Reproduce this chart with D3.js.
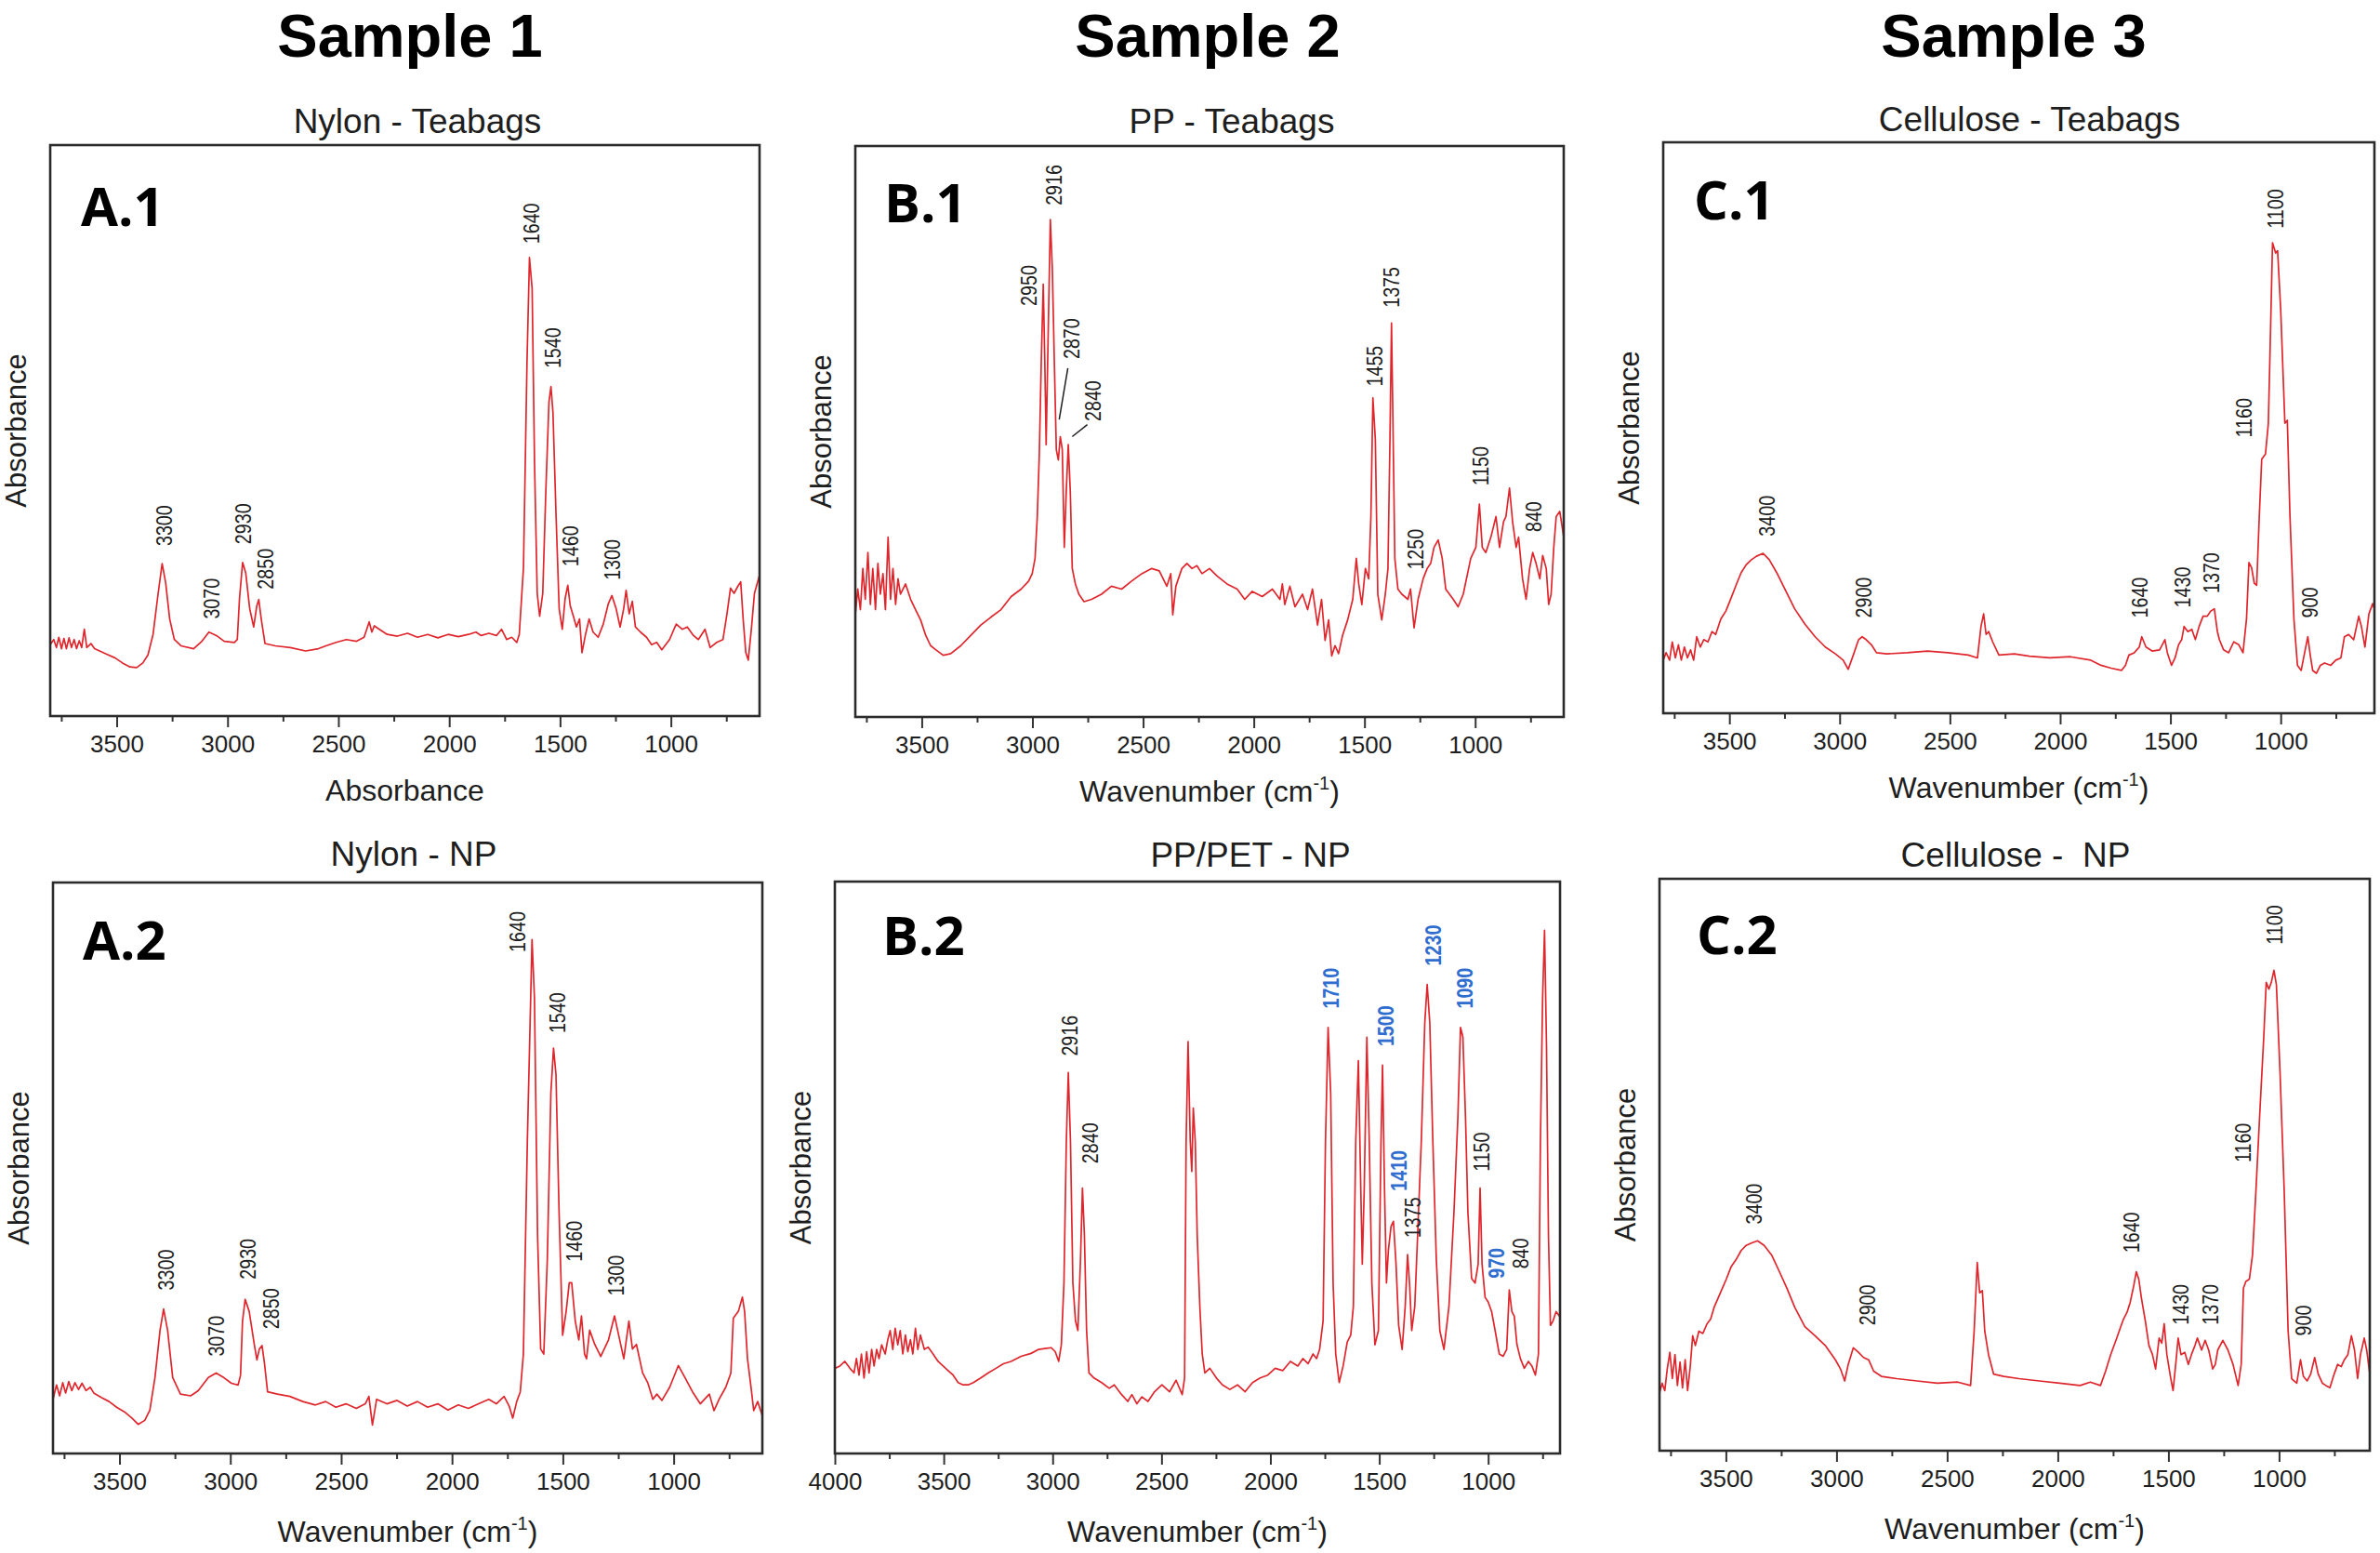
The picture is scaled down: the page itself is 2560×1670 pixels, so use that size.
<!DOCTYPE html>
<html><head><meta charset="utf-8">
<script src="https://cdn.jsdelivr.net/npm/d3@7"></script>
<style>body{margin:0;background:#fff}svg text{white-space:pre}</style>
</head><body>
<svg id="c" width="2560" height="1670" xmlns="http://www.w3.org/2000/svg"></svg>
<script>
// ---------------- DATA ----------------
const sampleTitles = ["Sample 1", "Sample 2", "Sample 3"];
const panelTitles = ["Nylon - Teabags", "PP - Teabags", "Cellulose - Teabags", "Nylon - NP", "PP/PET - NP", "Cellulose -  NP"];
const panelTags = ["A.1", "B.1", "C.1", "A.2", "B.2", "C.2"];
const xAxisTitles = ["Absorbance", "Wavenumber", "Wavenumber", "Wavenumber", "Wavenumber", "Wavenumber"];
const yAxisTitle = "Absorbance";
const majorTicks = [3500, 3000, 2500, 2000, 1500, 1000];
const majorTicksB2 = [4000, 3500, 3000, 2500, 2000, 1500, 1000];
const minorTicks = [3750, 3250, 2750, 2250, 1750, 1250, 750];

// spectra: [wavenumber (cm-1), absorbance (a.u.)]
const specA1 = [[3800,12.5],[3784,13.4],[3772,12.0],[3761,13.8],[3749,11.8],[3738,13.6],[3727,11.8],[3715,13.7],[3704,12.0],[3692,13.4],[3681,11.8],[3669,13.2],[3658,12.0],[3646,15.2],[3635,12.0],[3616,12.7],[3600,11.8],[3577,11.4],[3543,10.8],[3508,10.2],[3474,9.3],[3440,8.6],[3410,8.5],[3382,9.3],[3359,10.7],[3336,14.3],[3313,21.5],[3295,26.7],[3279,23.3],[3261,17.0],[3240,13.4],[3210,12.3],[3153,11.8],[3118,13.0],[3084,14.7],[3050,14.1],[3015,13.1],[2969,12.9],[2956,13.4],[2946,20.6],[2932,26.9],[2918,25.1],[2900,18.8],[2882,15.6],[2868,19.3],[2859,20.4],[2848,17.0],[2831,12.7],[2785,12.3],[2717,12.0],[2648,11.4],[2590,11.8],[2556,12.3],[2510,12.9],[2464,13.4],[2418,13.1],[2384,13.8],[2361,16.5],[2349,14.7],[2338,15.8],[2315,15.2],[2280,14.3],[2234,14.0],[2188,14.5],[2143,13.8],[2097,14.3],[2051,13.7],[2005,14.3],[1959,13.9],[1913,14.3],[1879,14.7],[1856,14.1],[1821,14.5],[1787,14.1],[1764,15.2],[1741,13.4],[1718,13.8],[1695,12.9],[1684,14.3],[1665,26.0],[1649,62.2],[1638,80.3],[1626,74.9],[1615,44.1],[1603,21.5],[1592,17.5],[1578,21.5],[1564,39.6],[1550,55.0],[1541,57.7],[1532,53.2],[1518,35.1],[1504,18.8],[1490,15.2],[1477,20.6],[1465,22.9],[1454,19.3],[1440,17.5],[1426,15.6],[1412,17.0],[1401,11.1],[1385,14.3],[1369,17.0],[1351,14.7],[1328,13.8],[1305,16.1],[1282,19.7],[1266,21.1],[1247,18.8],[1229,15.6],[1213,18.8],[1202,22.0],[1188,17.9],[1174,20.1],[1160,15.6],[1137,14.7],[1110,13.8],[1087,12.5],[1064,12.9],[1041,11.6],[1006,13.4],[976,16.1],[949,15.2],[926,15.6],[898,14.1],[876,13.4],[846,15.2],[823,12.0],[793,12.9],[765,13.4],[747,17.9],[731,22.4],[715,21.5],[697,22.8],[685,23.5],[674,17.0],[662,11.1],[651,9.8],[637,15.2],[623,21.5],[600,24.7]];
const specB1 = [[3800,17.9],[3789,22.4],[3777,18.8],[3766,26.0],[3755,20.6],[3743,28.8],[3732,19.7],[3721,26.0],[3709,18.8],[3698,26.9],[3687,21.5],[3675,25.1],[3664,18.8],[3652,31.5],[3641,20.6],[3630,26.0],[3618,19.7],[3607,24.2],[3596,21.5],[3573,23.3],[3550,20.6],[3528,18.8],[3505,17.0],[3482,14.3],[3460,12.5],[3437,11.8],[3403,10.8],[3369,11.1],[3323,12.5],[3278,14.3],[3233,16.1],[3187,17.5],[3142,18.8],[3096,21.1],[3051,22.4],[3017,23.8],[3001,25.1],[2988,27.8],[2978,35.1],[2969,45.9],[2960,62.2],[2951,75.8],[2944,62.2],[2938,47.7],[2929,66.7],[2919,87.1],[2910,78.5],[2901,62.2],[2892,46.8],[2883,45.0],[2874,49.1],[2865,46.8],[2856,29.7],[2847,39.6],[2838,47.7],[2829,39.6],[2820,26.0],[2806,23.3],[2790,21.5],[2767,20.2],[2733,20.6],[2688,21.5],[2643,22.9],[2597,22.4],[2552,23.8],[2506,25.1],[2461,26.0],[2427,25.6],[2393,22.9],[2375,25.1],[2366,17.9],[2352,22.9],[2325,26.0],[2302,26.9],[2279,26.0],[2257,26.5],[2234,25.1],[2200,26.0],[2166,24.7],[2121,23.3],[2075,22.4],[2041,20.6],[2007,22.0],[1962,21.1],[1916,22.4],[1882,20.6],[1871,23.3],[1860,19.7],[1837,22.9],[1814,19.3],[1780,21.5],[1757,18.8],[1735,22.4],[1712,16.1],[1694,20.6],[1678,13.4],[1662,17.0],[1648,10.7],[1633,12.5],[1617,11.1],[1599,14.3],[1576,17.0],[1553,20.6],[1537,27.8],[1526,23.3],[1512,19.7],[1496,26.0],[1481,24.2],[1471,35.1],[1462,55.9],[1451,48.6],[1440,21.5],[1422,17.0],[1406,21.5],[1394,26.0],[1385,48.6],[1378,69.0],[1372,53.2],[1363,27.8],[1349,22.4],[1331,21.5],[1304,20.6],[1292,22.4],[1276,15.6],[1258,20.6],[1235,24.2],[1217,26.0],[1201,26.9],[1186,29.7],[1167,31.0],[1149,27.8],[1133,22.4],[1099,20.6],[1077,19.3],[1054,21.5],[1020,27.8],[997,29.7],[981,37.3],[968,29.7],[952,28.8],[929,31.5],[906,35.1],[890,29.7],[872,34.2],[861,35.1],[845,40.1],[831,34.2],[815,29.7],[804,31.5],[786,24.2],[770,20.6],[754,26.0],[740,28.8],[725,26.9],[708,24.2],[695,28.3],[679,26.0],[668,19.7],[657,21.5],[645,29.7],[634,35.1],[618,36.0],[600,31.5]];
const specC1 = [[3800,9.3],[3787,10.6],[3771,9.3],[3759,12.5],[3745,9.7],[3731,12.0],[3718,9.3],[3704,11.6],[3690,9.7],[3676,11.1],[3662,9.3],[3648,13.4],[3632,11.6],[3616,12.9],[3597,12.5],[3579,14.3],[3562,13.8],[3539,16.5],[3516,17.9],[3493,20.1],[3470,22.4],[3447,24.6],[3424,26.0],[3400,26.9],[3377,27.5],[3347,28.0],[3319,26.9],[3285,24.6],[3250,21.9],[3204,18.3],[3157,15.6],[3111,13.4],[3065,11.6],[3019,10.4],[2984,9.3],[2961,7.7],[2938,10.2],[2914,12.9],[2898,13.4],[2880,12.9],[2856,12.0],[2833,10.6],[2787,10.4],[2694,10.6],[2602,10.9],[2509,10.6],[2417,10.2],[2375,9.7],[2359,15.2],[2347,17.4],[2336,13.8],[2324,14.3],[2306,12.5],[2278,10.2],[2208,10.4],[2139,10.0],[2046,9.7],[1954,9.9],[1861,9.3],[1815,8.4],[1769,7.9],[1722,7.5],[1704,8.4],[1688,10.2],[1664,10.6],[1641,11.6],[1630,13.4],[1611,11.6],[1583,10.9],[1549,11.1],[1525,12.9],[1514,10.6],[1495,8.4],[1479,9.7],[1463,12.0],[1449,12.9],[1438,15.2],[1421,14.3],[1403,14.7],[1387,12.9],[1370,15.2],[1352,17.0],[1333,17.0],[1317,17.9],[1301,18.3],[1287,14.3],[1278,12.9],[1259,11.1],[1236,10.6],[1213,12.5],[1190,12.0],[1171,10.6],[1155,16.5],[1144,26.4],[1132,25.5],[1120,22.8],[1109,22.4],[1097,34.6],[1086,44.5],[1069,45.4],[1056,50.8],[1046,67.1],[1037,82.4],[1023,80.6],[1014,81.0],[1000,70.7],[981,50.8],[970,51.3],[958,34.6],[940,16.5],[924,8.4],[907,7.5],[889,11.1],[877,13.4],[866,10.2],[855,7.5],[838,7.0],[820,8.4],[801,8.8],[773,8.4],[750,9.3],[727,9.7],[711,13.4],[692,13.8],[669,12.9],[646,17.0],[634,15.2],[618,11.6],[600,17.4],[583,19.2],[575,18.3]];
const specA2 = [[3800,9.5],[3784,12.0],[3770,10.1],[3756,12.4],[3743,10.6],[3729,12.6],[3715,11.0],[3701,12.4],[3685,11.2],[3669,12.3],[3651,11.0],[3632,11.6],[3616,10.6],[3582,9.8],[3547,9.1],[3513,8.1],[3478,7.3],[3444,6.2],[3416,5.1],[3386,5.8],[3363,7.6],[3340,13.3],[3317,21.6],[3301,25.3],[3283,21.6],[3260,13.3],[3225,10.4],[3179,10.1],[3145,11.0],[3099,13.3],[3064,14.1],[3030,13.3],[2995,12.3],[2965,12.0],[2954,13.7],[2945,23.2],[2933,27.0],[2915,24.9],[2892,19.1],[2880,16.4],[2869,18.3],[2857,18.9],[2846,15.8],[2832,10.8],[2788,10.4],[2731,10.0],[2673,9.1],[2616,8.5],[2570,9.1],[2524,8.1],[2478,8.7],[2432,7.9],[2391,8.7],[2375,10.0],[2359,5.0],[2340,9.5],[2294,8.7],[2248,9.3],[2202,8.3],[2156,9.1],[2110,8.1],[2064,8.7],[2018,7.6],[1972,8.5],[1926,7.9],[1880,8.7],[1834,9.5],[1800,8.7],[1765,10.0],[1742,8.3],[1726,6.2],[1708,9.1],[1692,10.8],[1678,17.4],[1660,54.8],[1639,90.0],[1628,79.7],[1614,38.2],[1600,18.3],[1586,17.4],[1570,34.0],[1554,63.1],[1542,71.0],[1531,66.4],[1517,42.3],[1501,20.7],[1485,24.9],[1471,29.9],[1460,29.9],[1444,23.2],[1428,19.9],[1416,24.1],[1402,17.4],[1393,16.6],[1379,21.6],[1356,19.1],[1329,17.0],[1294,19.9],[1267,24.1],[1248,20.7],[1225,16.6],[1202,23.2],[1186,18.3],[1168,19.1],[1140,14.1],[1117,12.4],[1094,9.5],[1076,10.4],[1053,9.3],[1018,11.6],[979,15.4],[949,13.3],[915,10.8],[880,8.7],[839,10.4],[818,7.5],[795,9.5],[765,11.6],[742,14.1],[731,23.7],[708,24.9],[690,27.4],[680,24.9],[667,16.6],[651,11.6],[639,7.5],[621,9.1],[600,6.6]];
const specB2 = [[4000,14.9],[3977,15.3],[3954,16.1],[3931,14.9],[3912,14.1],[3901,16.6],[3889,13.7],[3878,17.4],[3866,13.2],[3854,17.8],[3843,14.1],[3831,18.2],[3820,15.3],[3808,18.2],[3797,16.6],[3785,19.0],[3769,17.4],[3757,19.9],[3746,21.5],[3734,18.2],[3723,21.9],[3711,19.0],[3700,21.5],[3688,17.4],[3676,20.7],[3665,17.8],[3653,19.9],[3642,17.4],[3630,21.9],[3619,18.2],[3607,20.7],[3589,18.2],[3572,18.6],[3549,17.4],[3526,16.1],[3503,15.3],[3480,14.5],[3457,13.7],[3434,12.4],[3411,12.0],[3388,12.0],[3364,12.4],[3330,13.2],[3295,14.1],[3260,14.9],[3226,15.7],[3191,16.1],[3145,17.0],[3099,17.5],[3064,18.2],[3029,18.4],[3006,18.5],[2988,17.8],[2972,16.1],[2960,19.0],[2948,29.8],[2937,54.6],[2928,66.6],[2918,54.6],[2907,29.8],[2895,23.2],[2884,21.5],[2872,33.9],[2863,46.4],[2854,38.1],[2844,21.5],[2833,14.1],[2810,13.2],[2775,12.4],[2740,11.4],[2717,12.0],[2683,10.3],[2655,9.1],[2636,10.3],[2613,8.7],[2590,9.9],[2562,9.1],[2532,10.8],[2498,12.0],[2463,10.8],[2433,12.8],[2405,10.3],[2394,13.2],[2387,54.6],[2378,72.0],[2368,54.6],[2361,49.3],[2354,60.4],[2345,54.6],[2336,38.1],[2324,25.7],[2313,17.4],[2301,14.1],[2278,14.9],[2248,13.2],[2220,12.0],[2186,11.2],[2151,12.0],[2116,10.8],[2082,12.4],[2047,13.2],[2012,13.7],[1978,14.9],[1943,14.5],[1908,16.1],[1874,15.3],[1851,16.6],[1827,15.7],[1804,17.4],[1788,16.6],[1774,18.2],[1758,23.2],[1747,54.6],[1735,74.5],[1723,62.9],[1712,29.8],[1700,17.4],[1684,12.4],[1666,15.3],[1647,19.5],[1631,20.7],[1619,25.7],[1608,54.6],[1596,68.7],[1585,46.4],[1578,33.1],[1569,46.4],[1557,72.8],[1546,54.6],[1534,29.8],[1520,19.0],[1504,21.5],[1492,54.6],[1485,67.9],[1476,46.4],[1467,29.8],[1458,35.6],[1446,39.7],[1435,40.6],[1423,33.1],[1411,22.4],[1395,18.2],[1381,25.7],[1370,34.8],[1361,29.8],[1351,21.5],[1337,25.7],[1324,38.1],[1307,54.6],[1291,75.3],[1280,82.0],[1268,75.3],[1254,54.6],[1238,33.9],[1222,21.5],[1203,18.2],[1180,25.7],[1157,42.2],[1139,58.8],[1127,74.5],[1116,72.8],[1104,58.8],[1093,42.2],[1076,30.6],[1060,29.8],[1046,33.1],[1037,46.4],[1028,33.1],[1014,27.3],[1000,26.5],[984,24.8],[968,21.5],[949,17.4],[931,17.0],[915,18.2],[903,28.6],[891,24.8],[880,24.0],[868,19.1],[852,16.6],[834,14.9],[815,16.1],[799,15.3],[783,13.7],[769,17.4],[760,54.6],[750,79.5],[741,91.5],[732,71.2],[723,38.1],[714,22.4],[702,23.2],[688,24.8],[672,24.0]];
const specC2 = [[3800,10.1],[3788,11.8],[3776,10.5],[3765,14.3],[3753,17.2],[3742,12.6],[3730,16.8],[3719,11.4],[3707,15.5],[3696,11.0],[3684,15.9],[3673,10.5],[3661,14.7],[3650,20.1],[3638,18.4],[3622,20.9],[3604,20.5],[3585,22.2],[3569,23.0],[3553,25.1],[3535,26.7],[3516,28.4],[3498,30.0],[3477,32.1],[3454,33.4],[3431,35.0],[3408,35.9],[3385,36.3],[3357,36.7],[3327,35.9],[3293,34.2],[3258,31.3],[3224,28.4],[3189,25.1],[3143,21.7],[3097,20.1],[3051,18.4],[3005,15.9],[2982,14.3],[2963,12.2],[2947,15.1],[2924,18.0],[2901,17.2],[2878,16.3],[2855,15.9],[2832,13.9],[2797,13.0],[2728,12.6],[2636,12.2],[2544,11.8],[2452,12.0],[2394,11.4],[2378,20.9],[2364,32.9],[2353,27.6],[2341,28.0],[2330,20.9],[2313,16.8],[2290,13.4],[2244,13.0],[2175,12.6],[2083,12.2],[1991,11.8],[1899,11.4],[1853,12.0],[1807,11.4],[1784,13.9],[1761,16.8],[1737,19.3],[1719,21.3],[1703,23.0],[1687,24.2],[1673,25.9],[1657,28.8],[1645,31.3],[1634,30.0],[1622,26.7],[1604,22.6],[1588,18.4],[1572,16.8],[1558,14.3],[1542,19.7],[1530,18.8],[1519,22.2],[1507,16.8],[1491,13.0],[1479,10.5],[1466,15.5],[1456,19.7],[1443,16.8],[1426,17.2],[1410,15.1],[1396,16.8],[1380,18.4],[1369,19.7],[1350,17.6],[1334,19.3],[1318,17.6],[1300,14.3],[1288,15.1],[1277,17.6],[1254,19.3],[1231,17.6],[1208,15.1],[1185,11.4],[1171,15.1],[1161,28.4],[1150,29.6],[1134,30.0],[1120,34.2],[1104,45.8],[1088,58.3],[1069,72.4],[1058,81.9],[1046,80.7],[1035,81.9],[1023,84.0],[1012,81.5],[996,66.6],[977,45.8],[959,20.9],[943,12.6],[920,11.8],[903,15.9],[890,13.0],[873,12.2],[857,13.4],[839,16.3],[823,13.4],[804,11.8],[788,11.4],[770,11.0],[751,13.4],[735,15.1],[719,14.7],[705,15.9],[689,16.8],[673,20.1],[659,17.6],[645,12.6],[632,16.8],[615,19.7],[604,17.6],[590,13.4]];

// peak annotations: [label, wavenumber, absorbance at label start, highlighted(PET)]
const peaksA1 = [["3300",3286,29.8],["3070",3072,17.0],["2930",2928,30.1],["2850",2827,22.2],["1640",1631,82.7],["1540",1534,60.9],["1460",1454,26.2],["1300",1266,23.8]];
const peaksB1 = [["2950",3017,72.0],["2916",2904,89.6],["2870",2824,62.7],["2840",2727,51.8],["1455",1456,57.9],["1375",1378,71.7],["1250",1270,25.8],["1150",975,40.5],["840",736,32.4]];
const peaksC1 = [["3400",3331,31.0],["2900",2891,16.7],["1640",1637,16.7],["1430",1444,18.5],["1370",1313,21.0],["1160",1167,48.3],["1100",1023,84.9],["900",866,16.7]];
const peaksA2 = [["3300",3290,28.6],["3070",3064,17.0],["2930",2922,30.5],["2850",2818,21.8],["1640",1703,87.8],["1540",1524,73.6],["1460",1448,33.6],["1300",1260,27.6]];
const peaksB2 = [["2916",2921,69.5,0],["2840",2828,50.7,0],["1710",1723,77.8,1],["1500",1469,71.2,1],["1230",1254,85.3,1],["1090",1106,77.8,1],["1410",1411,45.9,1],["1375",1347,37.7,0],["1150",1030,49.3,0],["970",961,30.6,1],["840",852,32.3,0]];
const peaksC2 = [["3400",3373,39.6],["2900",2862,21.9],["1640",1668,34.6],["1430",1445,22.0],["1370",1311,22.0],["1160",1162,50.4],["1100",1019,88.5],["900",890,20.1]];
const leadersB1 = [[[2840,61.1],[2879,52.1]],[[2752,51.2],[2820,49.1]]];

// ---------------- LAYOUT ----------------
const panels = [
  {spec:specA1, peaks:peaksA1, x0:54,  x1:817,  y0:156, y1:770,  dom:[3800,600], ticks:majorTicks,   tagDx:33, tagDy:87, xt:91},
  {spec:specB1, peaks:peaksB1, x0:920, x1:1682, y0:157, y1:771,  dom:[3800,600], ticks:majorTicks,   tagDx:31, tagDy:82, xt:91, leaders:leadersB1},
  {spec:specC1, peaks:peaksC1, x0:1789,x1:2554, y0:153, y1:767,  dom:[3800,575], ticks:majorTicks,   tagDx:33, tagDy:83, xt:91},
  {spec:specA2, peaks:peaksA2, x0:57,  x1:820,  y0:949, y1:1563, dom:[3800,600], ticks:majorTicks,   tagDx:32, tagDy:83, xt:95},
  {spec:specB2, peaks:peaksB2, x0:898, x1:1678, y0:948, y1:1563, dom:[4000,670], ticks:majorTicksB2, tagDx:51, tagDy:79, xt:95},
  {spec:specC2, peaks:peaksC2, x0:1785,x1:2549, y0:945, y1:1560, dom:[3800,590], ticks:majorTicks,   tagDx:40, tagDy:81, xt:95}
];
const titlePos = [[441,61],[1299,61],[2166,61]];
const subPos = [[449,143],[1325,143],[2183,141],[445,931],[1345,932],[2168,932]];

const svg = d3.select("#c");
const RED = "#e0262d", BLUE = "#2f6dcf", INK = "#1e1e1e";
const sans = "'Liberation Sans', Arial, sans-serif";

sampleTitles.forEach((t,i)=>{
  svg.append("text").attr("x",titlePos[i][0]).attr("y",titlePos[i][1])
    .attr("text-anchor","middle").attr("font-family",sans)
    .attr("font-weight",700).attr("font-size",65).attr("fill","#000").text(t);
});

panels.forEach((p,i)=>{
  const x = d3.scaleLinear().domain(p.dom).range([p.x0,p.x1]);
  const y = d3.scaleLinear().domain([0,100]).range([p.y1,p.y0]);
  const g = svg.append("g");

  // subtitle
  g.append("text").attr("x",subPos[i][0]).attr("y",subPos[i][1]).attr("text-anchor","middle")
    .attr("font-family",sans).attr("font-size",37).attr("fill",INK).text(panelTitles[i]);

  // clip
  const cid = "clip"+i;
  svg.append("defs").append("clipPath").attr("id",cid).append("rect")
    .attr("x",p.x0).attr("y",p.y0).attr("width",p.x1-p.x0).attr("height",p.y1-p.y0);

  // spectrum
  const line = d3.line().x(d=>x(d[0])).y(d=>y(d[1]));
  g.append("path").datum(p.spec).attr("d",line).attr("fill","none")
    .attr("stroke",RED).attr("stroke-width",1.7).attr("stroke-linejoin","round")
    .attr("clip-path",`url(#${cid})`);

  // x axis (major + minor ticks)
  const axMajor = d3.axisBottom(x).tickValues(p.ticks).tickSize(12).tickFormat(d3.format("d"));
  const ax = g.append("g").attr("transform",`translate(0,${p.y1})`).call(axMajor);
  ax.select(".domain").remove();
  ax.selectAll(".tick line").attr("stroke","#333").attr("stroke-width",2);
  ax.selectAll(".tick text").attr("font-family",sans).attr("font-size",26).attr("fill",INK).attr("y",21).attr("dy","0.71em");
  const minors = minorTicks.filter(v=>v<=p.dom[0] && v>=p.dom[1]);
  const axMinor = d3.axisBottom(x).tickValues(minors).tickSize(6).tickFormat("");
  const ax2 = g.append("g").attr("transform",`translate(0,${p.y1})`).call(axMinor);
  ax2.select(".domain").remove();
  ax2.selectAll(".tick line").attr("stroke","#333").attr("stroke-width",2);

  // frame
  g.append("rect").attr("x",p.x0).attr("y",p.y0).attr("width",p.x1-p.x0).attr("height",p.y1-p.y0)
    .attr("fill","none").attr("stroke","#2b2b2b").attr("stroke-width",2.6);

  // panel tag
  g.append("text").attr("x",p.x0+p.tagDx).attr("y",p.y0+p.tagDy)
    .attr("font-family","'Open Sans', sans-serif").attr("font-weight",700).attr("font-size",58)
    .attr("fill","#000").text(panelTags[i]);

  // y title
  const yc = (p.y0+p.y1)/2;
  g.append("text").attr("transform",`translate(${p.x0-37},${yc}) rotate(-90)`)
    .attr("text-anchor","middle").attr("dy","0.36em").attr("font-family",sans).attr("font-size",31)
    .attr("fill",INK).text(yAxisTitle);

  // x title
  const xt = g.append("text").attr("x",(p.x0+p.x1)/2).attr("y",p.y1+p.xt).attr("text-anchor","middle")
    .attr("font-family",sans).attr("font-size",32).attr("fill",INK);
  if (xAxisTitles[i]==="Wavenumber") {
    xt.append("tspan").text("Wavenumber (cm");
    xt.append("tspan").attr("font-size",20).attr("dy",-13).text("-1");
    xt.append("tspan").attr("dy",13).text(")");
  } else xt.text(xAxisTitles[i]);

  // peak labels
  p.peaks.forEach(pk=>{
    const hl = pk[3]===1;
    g.append("text").attr("transform",`translate(${x(pk[1])},${y(pk[2])}) rotate(-90) scale(0.82,1)`)
      .attr("dy","0.35em").attr("font-family",sans).attr("font-size",24)
      .attr("font-weight",hl?700:400).attr("fill",hl?BLUE:INK).text(pk[0]);
  });
  if (p.leaders) p.leaders.forEach(l=>{
    g.append("line").attr("x1",x(l[0][0])).attr("y1",y(l[0][1])).attr("x2",x(l[1][0])).attr("y2",y(l[1][1]))
      .attr("stroke",INK).attr("stroke-width",1.5);
  });
});
</script>
</body></html>
